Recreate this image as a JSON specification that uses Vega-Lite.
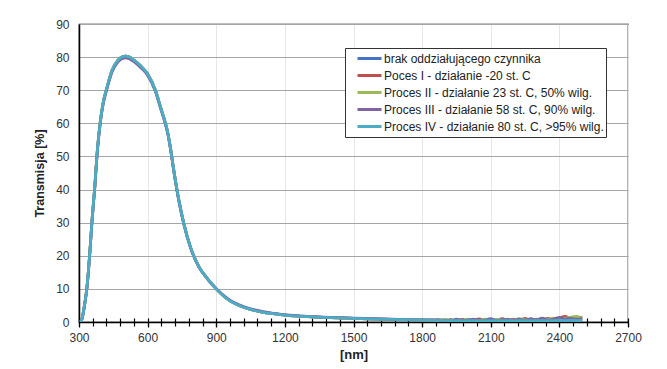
{
  "$schema": "https://vega.github.io/schema/vega-lite/v6.json",
  "width": 549,
  "height": 298,
  "autosize": {"type": "none"},
  "padding": {"left": 79, "top": 24, "right": 39, "bottom": 47},
  "background": "white",
  "config": {
    "view": {"stroke": "#000000", "strokeWidth": 1.2, "fill": "white"},
    "font": "Liberation Sans"
  },
  "datasets": {
    "names": [
      {"k": "a", "name": "brak oddziałującego czynnika"},
      {"k": "b", "name": "Poces I - działanie -20 st. C"},
      {"k": "c", "name": "Proces II - działanie 23 st. C, 50% wilg."},
      {"k": "d", "name": "Proces III - działanie 58 st. C, 90% wilg."},
      {"k": "e", "name": "Proces IV - działanie 80 st. C, >95% wilg."}
    ],
    "spectra": [
      {"x": 305, "a": 0, "b": 0, "c": 0, "d": 0, "e": 0},
      {"x": 310, "a": 0.3, "b": 0.3, "c": 0.3, "d": 0.3, "e": 0.3},
      {"x": 318, "a": 2.6, "b": 2.6, "c": 2.6, "d": 2.5, "e": 2.6},
      {"x": 325, "a": 5.5, "b": 5.5, "c": 5.5, "d": 5.3, "e": 5.5},
      {"x": 335, "a": 10.7, "b": 10.7, "c": 10.7, "d": 10.4, "e": 10.7},
      {"x": 347, "a": 20.7, "b": 20.7, "c": 20.7, "d": 20.3, "e": 20.7},
      {"x": 357, "a": 30.8, "b": 30.8, "c": 30.8, "d": 30.3, "e": 30.8},
      {"x": 369, "a": 40.9, "b": 40.9, "c": 40.9, "d": 40.4, "e": 40.9},
      {"x": 379, "a": 50.9, "b": 50.9, "c": 50.9, "d": 50.3, "e": 50.9},
      {"x": 394, "a": 61, "b": 61, "c": 61, "d": 60.5, "e": 61},
      {"x": 405, "a": 66, "b": 66, "c": 66, "d": 65.5, "e": 66},
      {"x": 423, "a": 71, "b": 71, "c": 71, "d": 70.5, "e": 71},
      {"x": 445, "a": 76.1, "b": 76.1, "c": 76.1, "d": 75.6, "e": 76.1},
      {"x": 470, "a": 79, "b": 79, "c": 79, "d": 78.5, "e": 79},
      {"x": 490, "a": 80.1, "b": 80.1, "c": 80.1, "d": 79.6, "e": 80.1},
      {"x": 503, "a": 80.3, "b": 80.3, "c": 80.3, "d": 79.8, "e": 80.3},
      {"x": 520, "a": 80, "b": 80, "c": 80, "d": 79.5, "e": 80},
      {"x": 540, "a": 79.1, "b": 79.1, "c": 79.1, "d": 78.6, "e": 79.1},
      {"x": 570, "a": 77.3, "b": 77.3, "c": 77.3, "d": 76.8, "e": 77.3},
      {"x": 598, "a": 75.1, "b": 75.1, "c": 75.1, "d": 74.7, "e": 75.1},
      {"x": 634, "a": 70, "b": 70, "c": 70, "d": 69.6, "e": 70},
      {"x": 656, "a": 65, "b": 65, "c": 65, "d": 64.6, "e": 65},
      {"x": 678, "a": 60, "b": 60, "c": 60, "d": 59.6, "e": 60},
      {"x": 690, "a": 56.5, "b": 56.5, "c": 56.5, "d": 56.2, "e": 56.5},
      {"x": 700, "a": 52.5, "b": 52.5, "c": 52.5, "d": 52.2, "e": 52.5},
      {"x": 714, "a": 46, "b": 46, "c": 46, "d": 45.7, "e": 46},
      {"x": 736, "a": 37, "b": 37, "c": 37, "d": 36.7, "e": 37},
      {"x": 758, "a": 29.8, "b": 29.8, "c": 29.8, "d": 29.6, "e": 29.8},
      {"x": 787, "a": 22.7, "b": 22.7, "c": 22.7, "d": 22.5, "e": 22.7},
      {"x": 824, "a": 16.7, "b": 16.7, "c": 16.7, "d": 16.6, "e": 16.7},
      {"x": 860, "a": 13.2, "b": 13.2, "c": 13.2, "d": 13.2, "e": 13.2},
      {"x": 904, "a": 9.7, "b": 9.7, "c": 9.7, "d": 9.8, "e": 9.7},
      {"x": 955, "a": 6.6, "b": 6.6, "c": 6.6, "d": 6.8, "e": 6.6},
      {"x": 1000, "a": 5.0, "b": 5.0, "c": 5.0, "d": 5.2, "e": 5.0},
      {"x": 1050, "a": 3.8, "b": 3.8, "c": 3.8, "d": 4.0, "e": 3.8},
      {"x": 1100, "a": 3.0, "b": 3.0, "c": 3.0, "d": 3.2, "e": 3.0},
      {"x": 1150, "a": 2.5, "b": 2.5, "c": 2.5, "d": 2.6, "e": 2.5},
      {"x": 1200, "a": 2.1, "b": 2.1, "c": 2.1, "d": 2.2, "e": 2.1},
      {"x": 1300, "a": 1.6, "b": 1.6, "c": 1.6, "d": 1.7, "e": 1.6},
      {"x": 1400, "a": 1.3, "b": 1.3, "c": 1.3, "d": 1.4, "e": 1.3},
      {"x": 1500, "a": 1.1, "b": 1.1, "c": 1.1, "d": 1.2, "e": 1.1},
      {"x": 1600, "a": 0.9, "b": 0.9, "c": 0.9, "d": 1.0, "e": 0.9},
      {"x": 1700, "a": 0.75, "b": 0.75, "c": 0.75, "d": 0.8, "e": 0.75},
      {"x": 1800, "a": 0.6, "b": 0.6, "c": 0.6, "d": 0.65, "e": 0.6},
      {"x": 1850, "a": 0.55, "b": 0.6, "c": 0.5, "d": 0.65, "e": 0.5},
      {"x": 1875, "a": 0.5, "b": 0.7, "c": 0.45, "d": 0.55, "e": 0.5},
      {"x": 1900, "a": 0.5, "b": 0.4, "c": 0.8, "d": 0.6, "e": 0.45},
      {"x": 1925, "a": 0.45, "b": 0.75, "c": 0.5, "d": 0.4, "e": 0.45},
      {"x": 1950, "a": 0.5, "b": 0.45, "c": 0.6, "d": 0.85, "e": 0.4},
      {"x": 1975, "a": 0.4, "b": 0.8, "c": 0.5, "d": 0.5, "e": 0.45},
      {"x": 2000, "a": 0.45, "b": 0.5, "c": 0.85, "d": 0.6, "e": 0.4},
      {"x": 2025, "a": 0.4, "b": 0.6, "c": 0.45, "d": 0.9, "e": 0.45},
      {"x": 2050, "a": 0.45, "b": 0.95, "c": 0.5, "d": 0.5, "e": 0.4},
      {"x": 2075, "a": 0.4, "b": 0.5, "c": 0.9, "d": 0.6, "e": 0.45},
      {"x": 2100, "a": 0.45, "b": 0.7, "c": 0.5, "d": 1.0, "e": 0.4},
      {"x": 2125, "a": 0.4, "b": 0.5, "c": 0.8, "d": 0.5, "e": 0.45},
      {"x": 2150, "a": 0.45, "b": 1.0, "c": 0.5, "d": 0.6, "e": 0.4},
      {"x": 2175, "a": 0.4, "b": 0.5, "c": 0.9, "d": 0.8, "e": 0.45},
      {"x": 2200, "a": 0.45, "b": 0.8, "c": 0.5, "d": 0.5, "e": 0.4},
      {"x": 2225, "a": 0.4, "b": 0.6, "c": 1.0, "d": 0.9, "e": 0.45},
      {"x": 2250, "a": 0.45, "b": 1.1, "c": 0.6, "d": 0.5, "e": 0.4},
      {"x": 2275, "a": 0.4, "b": 0.5, "c": 0.9, "d": 1.0, "e": 0.45},
      {"x": 2300, "a": 0.45, "b": 0.9, "c": 0.6, "d": 0.6, "e": 0.4},
      {"x": 2325, "a": 0.4, "b": 0.6, "c": 1.1, "d": 1.2, "e": 0.45},
      {"x": 2350, "a": 0.45, "b": 1.1, "c": 0.7, "d": 0.6, "e": 0.45},
      {"x": 2375, "a": 0.5, "b": 0.7, "c": 1.2, "d": 0.9, "e": 0.4},
      {"x": 2400, "a": 0.45, "b": 1.2, "c": 0.8, "d": 1.4, "e": 0.5},
      {"x": 2425, "a": 0.5, "b": 1.7, "c": 1.1, "d": 0.9, "e": 0.45},
      {"x": 2450, "a": 0.45, "b": 1.0, "c": 1.5, "d": 1.1, "e": 0.5},
      {"x": 2475, "a": 0.5, "b": 1.3, "c": 1.7, "d": 0.8, "e": 0.45},
      {"x": 2500, "a": 0.45, "b": 1.4, "c": 1.2, "d": 1.0, "e": 0.5}
    ]
  },
  "data": {"name": "spectra"},
  "transform": [
    {"fold": ["a", "b", "c", "d", "e"], "as": ["k", "y"]},
    {"lookup": "k", "from": {"data": {"name": "names"}, "key": "k", "fields": ["name"]}}
  ],
  "layer": [
    {
      "mark": {"type": "line", "strokeWidth": 2.75, "clip": true, "interpolate": "monotone"},
      "encoding": {
        "x": {
          "field": "x", "type": "quantitative",
          "scale": {"domain": [300, 2700], "nice": false, "zero": false},
          "axis": {
            "title": "[nm]",
            "titleFont": "Liberation Sans", "titleFontSize": 13, "titleFontWeight": "bold", "titleColor": "#222",
            "titlePadding": 5,
            "values": [300,600,900,1200,1500,1800,2100,2400,2700],
            "format": "d", "labelFlush": false,
            "labelFontSize": 12, "labelColor": "#333", "labelPadding": 5,
            "domainColor": "#000", "domainWidth": 1.5,
            "tickColor": "#000", "tickWidth": 1.2, "tickSize": 5,
            "grid": true, "gridColor": "#e6e6e6", "gridWidth": 1
          }
        },
        "y": {
          "field": "y", "type": "quantitative",
          "scale": {"domain": [0, 90], "nice": false},
          "axis": {
            "title": "Transmisja  [%]",
            "titleFont": "Liberation Sans", "titleFontSize": 12.5, "titleFontWeight": "bold", "titleColor": "#222",
            "titlePadding": 9,
            "values": [0,10,20,30,40,50,60,70,80,90],
            "labelFontSize": 12, "labelColor": "#333", "labelPadding": 10,
            "ticks": false,
            "domainColor": "#000", "domainWidth": 1.5,
            "grid": true, "gridColor": "#a6a6a6", "gridWidth": 1
          }
        },
        "color": {
          "field": "name", "type": "nominal",
          "scale": {
            "domain": ["brak oddziałującego czynnika", "Poces I - działanie -20 st. C", "Proces II - działanie 23 st. C, 50% wilg.", "Proces III - działanie 58 st. C, 90% wilg.", "Proces IV - działanie 80 st. C, >95% wilg."],
            "range": ["#4472c4", "#c0504d", "#9bbb59", "#8064a2", "#4bacc6"]
          },
          "legend": {
            "title": null,
            "orient": "none", "legendX": 266, "legendY": 24,
            "fillColor": "white", "strokeColor": "#333",
            "padding": 2,
            "symbolType": "stroke", "symbolStrokeWidth": 3, "symbolSize": 576,
            "clipHeight": 17, "rowPadding": 0, "symbolOffset": 9,
            "labelFont": "Liberation Sans", "labelFontSize": 12, "labelColor": "#222", "labelOffset": 1,
            "labelLimit": 300
          }
        }
      }
    },
    {
      "mark": {"type": "line", "strokeOpacity": 0},
      "encoding": {
        "x": {
          "field": "x", "type": "quantitative",
          "scale": {"domain": [300, 2700], "nice": false, "zero": false},
          "axis": {
            "orient": "bottom", "title": null, "labels": false, "domain": false, "grid": false,
            "values": [300,360,420,480,540,600,660,720,780,840,900,960,1020,1080,1140,1200,1260,1320,1380,1440,1500,1560,1620,1680,1740,1800,1860,1920,1980,2040,2100,2160,2220,2280,2340,2400,2460,2520,2580,2640,2700],
            "tickColor": "#000", "tickWidth": 1.2, "tickSize": 4
          }
        },
        "detail": {"field": "k"}
      }
    },
    {
      "mark": {"type": "line", "strokeOpacity": 0},
      "encoding": {
        "x": {
          "field": "x", "type": "quantitative",
          "scale": {"domain": [300, 2700], "nice": false, "zero": false},
          "axis": {
            "orient": "bottom", "title": null, "labels": false, "domain": false, "grid": false,
            "values": [300,360,420,480,540,600,660,720,780,840,900,960,1020,1080,1140,1200,1260,1320,1380,1440,1500,1560,1620,1680,1740,1800,1860,1920,1980,2040,2100,2160,2220,2280,2340,2400,2460,2520,2580,2640,2700],
            "tickColor": "#000", "tickWidth": 1.2, "tickSize": -4
          }
        },
        "detail": {"field": "k"}
      }
    }
  ],
  "resolve": {"axis": {"x": "independent"}}
}
